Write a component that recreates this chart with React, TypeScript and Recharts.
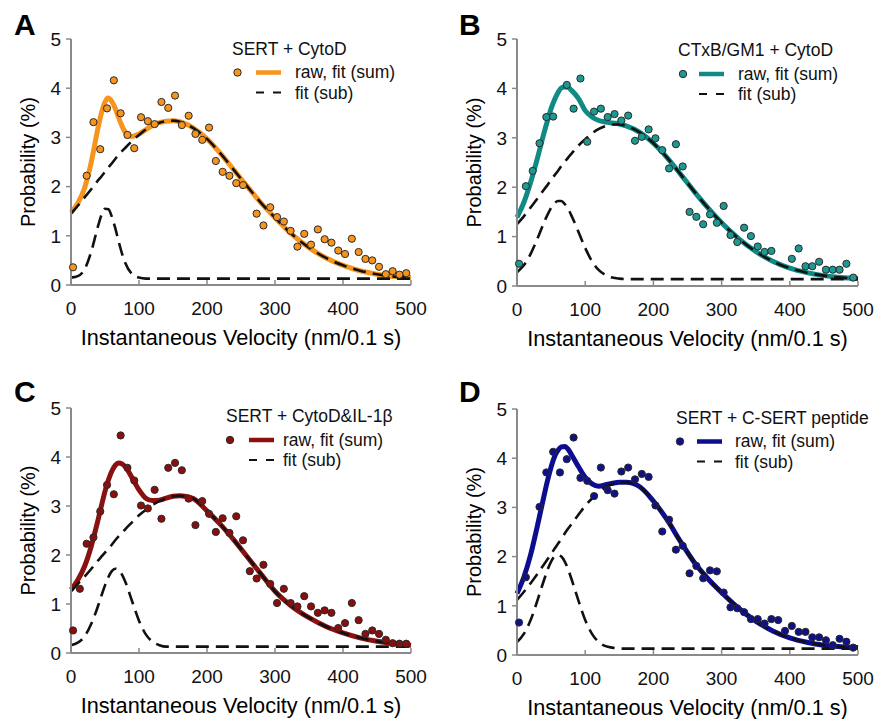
import React from 'react'
import { ComposedChart, Line, Scatter, XAxis, YAxis } from 'recharts'

// histogram bin centres (nm/0.1 s)
const binX = [
  3, 13, 23, 33, 43, 53, 63, 73, 83, 93, 103, 113, 123, 133, 143, 153, 163, 173, 183, 193,
  203, 213, 223, 233, 243, 253, 263, 273, 283, 293, 303, 313, 323, 333, 343, 353, 363, 373, 383, 393,
  403, 413, 423, 433, 443, 453, 463, 473, 483, 493,
]

const fitX = [
  0, 10, 20, 30, 40, 45, 50, 55, 60, 65, 70, 75, 80, 90, 100, 110, 120, 130, 140, 150, 160, 180,
  200, 220, 240, 260, 280, 300, 325, 350, 375, 400, 425, 450, 475, 500,
]

const xTicks = [0, 100, 200, 300, 400, 500]
const yTicks = [0, 1, 2, 3, 4, 5]

// A: SERT + CytoD
const rawA = [
  0.36, null, 2.22, 3.31, 2.76, 3.59, 4.16, 3.49, 3.05, 2.78, 3.41, 3.33, 3.27, 3.72, 3.6, 3.85, 3.25, 3.44, 3.07, 2.95,
  3.2, 2.52, 2.3, 2.22, 2.07, 2.03, null, 1.45, 1.21, 1.58, 1.38, 1.29, 1.1, 0.78, 1.04, 0.82, 1.13, 0.93, 0.86, 0.7,
  0.63, 0.94, 0.67, 0.53, 0.5, 0.37, 0.22, 0.28, 0.21, 0.24,
]
const sumA = [
  1.47, 1.66, 1.97, 2.51, 3.21, 3.51, 3.72, 3.8, 3.73, 3.59, 3.4, 3.23, 3.1, 3.02, 3.07, 3.16, 3.24, 3.3, 3.33, 3.34, 3.32, 3.19,
  2.97, 2.67, 2.33, 1.99, 1.66, 1.37, 1.03, 0.76, 0.55, 0.4, 0.29, 0.22, 0.17, 0.15,
]
const slowA = [
  1.45, 1.61, 1.78, 1.95, 2.13, 2.21, 2.3, 2.39, 2.47, 2.56, 2.64, 2.72, 2.79, 2.93, 3.05, 3.16, 3.24, 3.3, 3.33, 3.34, 3.32, 3.19,
  2.97, 2.67, 2.33, 1.99, 1.66, 1.37, 1.03, 0.76, 0.55, 0.4, 0.29, 0.22, 0.17, 0.15,
]
const fastA = [
  0.15, 0.18, 0.32, 0.69, 1.21, 1.43, 1.55, 1.54, 1.39, 1.16, 0.89, 0.64, 0.44, 0.22, 0.15, 0.13, 0.13, 0.13, 0.13, 0.13, 0.13, 0.13,
  0.13, 0.13, 0.13, 0.13, 0.13, 0.13, 0.13, 0.13, 0.13, 0.13, 0.13, 0.13, 0.13, 0.13,
]

// B: CTxB/GM1 + CytoD
const rawB = [
  0.45, 2.02, 2.33, 2.89, 3.42, 3.43, null, 4.07, 3.59, 4.2, 2.92, 3.53, 3.59, 3.42, 3.48, 3.35, 3.45, 2.94, 3.02, 3.17,
  2.99, 2.75, 2.38, 2.87, 2.42, 1.5, 1.4, 1.25, 1.45, 1.28, 1.62, 1.03, 0.89, 1.18, 1.01, 0.8, 0.69, 0.71, null, null,
  0.55, 0.76, 0.4, 0.4, 0.49, 0.33, 0.33, 0.33, 0.45, 0.17,
]
const sumB = [
  1.39, 1.69, 2.1, 2.59, 3.12, 3.36, 3.59, 3.77, 3.91, 4.01, 4.03, 4.02, 3.96, 3.8, 3.55, 3.42, 3.35, 3.32, 3.3, 3.28, 3.24, 3.11,
  2.89, 2.6, 2.26, 1.91, 1.58, 1.28, 0.96, 0.7, 0.5, 0.36, 0.27, 0.21, 0.17, 0.15,
]
const slowB = [
  1.25, 1.41, 1.59, 1.77, 1.96, 2.05, 2.15, 2.24, 2.33, 2.43, 2.51, 2.6, 2.68, 2.84, 2.97, 3.09, 3.18, 3.24, 3.27, 3.27, 3.24, 3.11,
  2.89, 2.6, 2.26, 1.91, 1.58, 1.28, 0.96, 0.7, 0.5, 0.36, 0.27, 0.21, 0.17, 0.15,
]
const fastB = [
  0.28, 0.42, 0.65, 0.96, 1.3, 1.45, 1.58, 1.67, 1.72, 1.72, 1.66, 1.56, 1.42, 1.1, 0.77, 0.5, 0.32, 0.22, 0.17, 0.15, 0.14, 0.14,
  0.14, 0.14, 0.14, 0.14, 0.14, 0.14, 0.14, 0.14, 0.14, 0.14, 0.14, 0.14, 0.14, 0.14,
]

// C: SERT + CytoD&IL-1β
const rawC = [
  0.46, 1.31, 2.23, 2.36, 2.89, 3.43, 3.24, 4.44, 3.78, 3.52, 3.01, 2.95, 3.33, 2.74, 3.78, 3.88, 3.73, 3.15, 2.61, 3.1,
  2.84, 2.47, 2.75, 2.45, 2.79, 2.3, 1.67, 1.52, 1.8, 1.41, 1.02, 1.31, 1.02, 0.95, 1.16, 0.95, 0.82, 0.87, 0.82, 0.51,
  0.61, 1.02, 0.67, 0.39, 0.46, 0.39, 0.27, 0.2, 0.19, 0.19,
]
const sumC = [
  1.29, 1.49, 1.77, 2.19, 2.73, 3.02, 3.3, 3.53, 3.71, 3.83, 3.88, 3.86, 3.8, 3.57, 3.33, 3.16, 3.11, 3.12, 3.16, 3.2, 3.21, 3.15,
  2.9, 2.62, 2.3, 1.95, 1.6, 1.26, 0.95, 0.72, 0.54, 0.41, 0.31, 0.24, 0.19, 0.16,
]
const slowC = [
  1.26, 1.41, 1.56, 1.72, 1.89, 1.97, 2.05, 2.13, 2.21, 2.3, 2.38, 2.45, 2.53, 2.67, 2.81, 2.92, 3.02, 3.1, 3.16, 3.2, 3.21, 3.15,
  2.9, 2.62, 2.3, 1.95, 1.6, 1.26, 0.95, 0.72, 0.54, 0.41, 0.31, 0.24, 0.19, 0.16,
]
const fastC = [
  0.16, 0.21, 0.34, 0.6, 0.97, 1.18, 1.38, 1.55, 1.67, 1.72, 1.7, 1.6, 1.45, 1.05, 0.66, 0.38, 0.23, 0.16, 0.13, 0.13, 0.13, 0.13,
  0.13, 0.13, 0.13, 0.13, 0.13, 0.13, 0.13, 0.13, 0.13, 0.13, 0.13, 0.13, 0.13, 0.13,
]

// D: SERT + C-SERT peptide
const rawD = [
  0.66, 1.58, null, 3.01, 3.71, 4.13, 3.71, 3.98, 4.42, 3.6, 3.54, 3.23, 3.81, 3.35, 3.28, 3.73, 3.81, 3.57, 3.68, 3.62,
  3.04, 2.51, 2.75, 2.14, 2.22, 1.66, 1.81, 1.56, 1.72, 1.7, 1.27, 0.97, 0.95, 0.87, 0.73, 0.73, 0.64, 0.73, 0.71, 0.49,
  0.59, 0.47, 0.47, 0.36, 0.36, 0.3, 0.2, 0.33, 0.27, 0.15,
]
const sumD = [
  1.25, 1.58, 2.04, 2.63, 3.26, 3.56, 3.82, 4.03, 4.16, 4.23, 4.24, 4.18, 4.07, 3.83, 3.61, 3.48, 3.43, 3.46, 3.49, 3.51, 3.51, 3.42,
  3.13, 2.75, 2.3, 1.88, 1.55, 1.27, 0.95, 0.69, 0.49, 0.35, 0.26, 0.2, 0.17, 0.15,
]
const slowD = [
  1.12, 1.28, 1.46, 1.65, 1.85, 1.95, 2.05, 2.16, 2.26, 2.36, 2.47, 2.57, 2.66, 2.85, 3.03, 3.18, 3.3, 3.41, 3.47, 3.51, 3.51, 3.42,
  3.13, 2.75, 2.3, 1.88, 1.55, 1.27, 0.95, 0.69, 0.49, 0.35, 0.26, 0.2, 0.17, 0.15,
]
const fastD = [
  0.26, 0.43, 0.71, 1.11, 1.54, 1.74, 1.9, 2.0, 2.03, 2.0, 1.9, 1.74, 1.54, 1.11, 0.71, 0.43, 0.26, 0.18, 0.15, 0.13, 0.13, 0.13,
  0.13, 0.13, 0.13, 0.13, 0.13, 0.13, 0.13, 0.13, 0.13, 0.13, 0.13, 0.13, 0.13, 0.13,
]

const FONT = '"Liberation Sans", Arial, sans-serif'
const axisLine = { stroke: '#8a8a8a', strokeWidth: 2 }
const tickLine = { stroke: '#8a8a8a', strokeWidth: 1.5 }

const toCurve = (ys: number[]) => fitX.map((x, i) => ({ x, v: ys[i] }))
const toPoints = (ys: (number | null)[]) =>
  binX.flatMap((x, i) => (ys[i] == null ? [] : [{ x, y: ys[i] as number }]))

const panels = [
  {
    key: 'A', title: 'SERT + CytoD', color: '#f7941d', dotFill: '#f7941d',
    raw: rawA, sum: sumA, slow: slowA, fast: fastA,
    left: 0, top: 0, width: 448, height: 360,
    margin: { top: 39, right: 37, bottom: 11, left: 0 }, yWidth: 71, yLabelOffset: 28,
    letter: { x: 14, y: 34.5 },
    legend: { titleX: 232, y: 54.5, circleX: 237.5, lineX: 256, textX: 295 },
  },
  {
    key: 'B', title: 'CTxB/GM1 + CytoD', color: '#0f8a84', dotFill: '#1c9a92',
    raw: rawB, sum: sumB, slow: slowB, fast: fastB,
    left: 448, top: 0, width: 448, height: 361,
    margin: { top: 39, right: 38, bottom: 11, left: 0 }, yWidth: 69, yLabelOffset: 26,
    letter: { x: 459, y: 34.5 },
    legend: { titleX: 678, y: 56, circleX: 683, lineX: 699, textX: 738 },
  },
  {
    key: 'C', title: 'SERT + CytoD&IL-1β', color: '#8b1111', dotFill: '#8a0e0e',
    raw: rawC, sum: sumC, slow: slowC, fast: fastC,
    left: 0, top: 360, width: 448, height: 359,
    margin: { top: 48, right: 37, bottom: 2, left: 0 }, yWidth: 71, yLabelOffset: 28,
    letter: { x: 14, y: 402 },
    legend: { titleX: 226, y: 422, circleX: 230, lineX: 249, textX: 283 },
  },
  {
    key: 'D', title: 'SERT + C-SERT peptide', color: '#0d0d8f', dotFill: '#10108a',
    raw: rawD, sum: sumD, slow: slowD, fast: fastD,
    left: 448, top: 360, width: 448, height: 359,
    margin: { top: 49, right: 38, bottom: 0, left: 0 }, yWidth: 69, yLabelOffset: 26,
    letter: { x: 459, y: 402 },
    legend: { titleX: 676, y: 423.5, circleX: 680, lineX: 697, textX: 735 },
  },
]

function Panel({ p }: { p: (typeof panels)[number] }) {
  const dot = (props: any) => (
    <circle cx={props.cx} cy={props.cy} r={3.6} fill={p.dotFill} stroke="#2a2a2a" strokeWidth={1} />
  )
  return (
    <div style={{ position: 'absolute', left: p.left, top: p.top }}>
      <ComposedChart width={p.width} height={p.height} margin={p.margin}>
        <XAxis
          type="number"
          dataKey="x"
          domain={[0, 500]}
          ticks={xTicks}
          interval={0}
          height={64}
          tickSize={-5}
          tickMargin={22}
          axisLine={axisLine}
          tickLine={tickLine}
          tick={{ fontSize: 19, fill: '#111' }}
          label={{
            value: 'Instantaneous Velocity (nm/0.1 s)',
            position: 'insideBottom',
            offset: 4,
            fontSize: 21.7,
            fill: '#000',
          }}
        />
        <YAxis
          type="number"
          domain={[0, 5]}
          ticks={yTicks}
          interval={0}
          width={p.yWidth}
          tickSize={5}
          tickMargin={5}
          axisLine={axisLine}
          tickLine={tickLine}
          tick={{ fontSize: 19, fill: '#111' }}
          label={{
            value: 'Probability (%)',
            angle: -90,
            position: 'insideLeft',
            offset: p.yLabelOffset,
            fontSize: 20,
            fill: '#000',
            style: { textAnchor: 'middle' },
          }}
        />
        <Line data={toCurve(p.sum)} dataKey="v" type="monotone" stroke={p.color} strokeWidth={5}
          dot={false} activeDot={false} isAnimationActive={false} />
        <Line data={toCurve(p.slow)} dataKey="v" type="monotone" stroke="#111" strokeWidth={2.6}
          strokeDasharray="13 7" dot={false} activeDot={false} isAnimationActive={false} />
        <Line data={toCurve(p.fast)} dataKey="v" type="monotone" stroke="#111" strokeWidth={2.6}
          strokeDasharray="13 7" dot={false} activeDot={false} isAnimationActive={false} />
        <Scatter data={toPoints(p.raw)} dataKey="y" shape={dot} isAnimationActive={false} />
      </ComposedChart>
    </div>
  )
}

export default function App() {
  return (
    <div style={{ position: 'absolute', left: 0, top: 0, width: 896, height: 719, background: '#fff', fontFamily: FONT }}>
      {panels.map((p) => (
        <Panel key={p.key} p={p} />
      ))}
      <svg width={896} height={719} style={{ position: 'absolute', left: 0, top: 0, pointerEvents: 'none' }}>
        {panels.map((p) => {
          const L = p.legend
          return (
            <g key={p.key} fontFamily={FONT}>
              <text x={p.letter.x} y={p.letter.y} fontSize={30} fontWeight="bold" fill="#000">{p.key}</text>
              <text x={L.titleX} y={L.y} fontSize={17.5} fill="#111">{p.title}</text>
              <circle cx={L.circleX} cy={L.y + 18} r={3.7} fill={p.dotFill} stroke="#2a2a2a" strokeWidth={1} />
              <line x1={L.lineX} x2={L.lineX + 25} y1={L.y + 18} y2={L.y + 18} stroke={p.color} strokeWidth={4.5} />
              <text x={L.textX} y={L.y + 23.5} fontSize={17.5} fill="#111">raw, fit (sum)</text>
              <line x1={L.lineX} x2={L.lineX + 25} y1={L.y + 38} y2={L.y + 38} stroke="#111" strokeWidth={2}
                strokeDasharray="8 9" />
              <text x={L.textX} y={L.y + 44} fontSize={17.5} fill="#111">fit (sub)</text>
            </g>
          )
        })}
      </svg>
    </div>
  )
}
